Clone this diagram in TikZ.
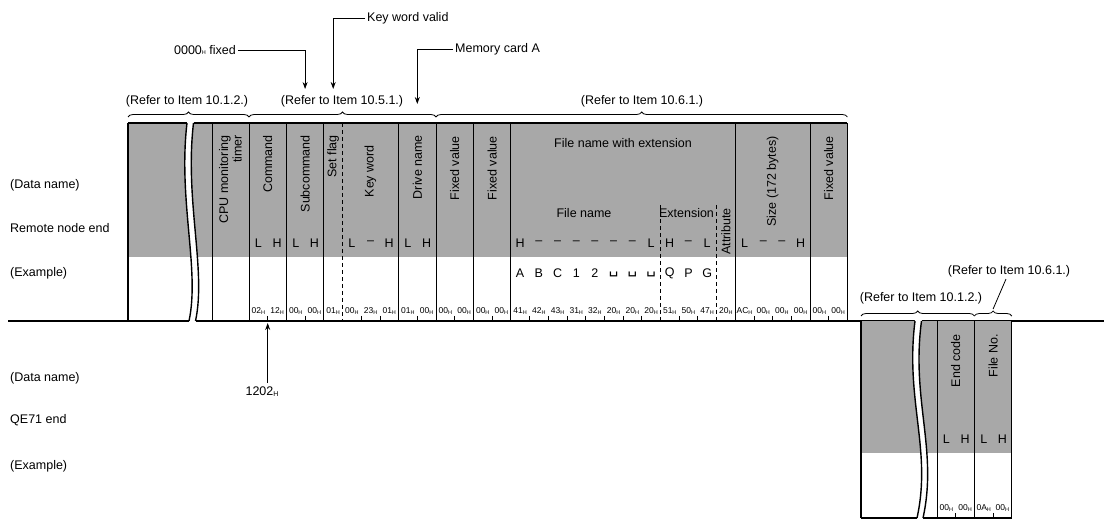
\documentclass[tikz,border=0pt]{standalone}
\usepackage{fontspec}
\setmainfont{Liberation Sans}
\newfontfamily\dejavu{DejaVu Sans}
\usetikzlibrary{decorations.pathreplacing,arrows.meta}
\newcommand\hexb[1]{#1\raisebox{-0.6pt}{\fontsize{5.5}{5.5}\selectfont H}}
\newcommand\vsp{{\dejavu\fontsize{15}{15}\selectfont ␣}}
\begin{document}
\begin{tikzpicture}[x=1pt,y=-1pt,
  lbl/.style={font=\fontsize{12.5}{13.5}\selectfont, inner sep=0pt},
  hdr/.style={lbl, rotate=90, anchor=east},
  edge/.style={line width=1.3pt},
  colline/.style={line width=0.8pt},
  dcol/.style={line width=0.8pt, dash pattern=on 4pt off 3pt},
  grayfill/.style={fill=black!34},
  hexs/.style={font=\fontsize{8.5}{9}\selectfont, inner sep=0pt},
  brc/.style={decorate, decoration={brace, amplitude=5pt}, line width=0.8pt},
  arr/.style={-{Stealth[length=7pt,width=5pt]}, line width=0.8pt},
  wave/.style={line width=1.4pt},
]
\useasboundingbox (0,0) rectangle (1104,521);

% ---------------- main (request) frame ----------------
\fill[grayfill] (128,123) rectangle (847.4,257);
\fill[white] (187,121) .. controls (178,200) and (200,270) .. (189,322)
  -- (195.5,322) .. controls (206.5,270) and (184.5,200) .. (193.5,121) -- cycle;
\draw[edge] (128,123) -- (187,123);
\draw[edge] (193.5,123) -- (847.4,123);
\draw[edge] (128,123) -- (128,321);
\draw[edge] (847.4,123) -- (847.4,321);
\draw[wave] (187,123) .. controls (178,200) and (200,270) .. (189,321);
\draw[wave] (193.5,123) .. controls (184.5,200) and (206.5,270) .. (195.5,321);
\foreach \x in {212,249,286.4,323.8,398.6,436,473.4,510.8,735.2,810}
  \draw[colline] (\x,123) -- (\x,321);
\draw[dcol] (342.5,123) -- (342.5,321);
\draw[dcol] (660.4,205) -- (660.4,321);
\draw[dcol] (716.5,205) -- (716.5,321);

% timeline
\draw[edge] (8,321) -- (189,321);
\draw[edge] (195.5,321) -- (915,321);
\draw[edge] (921.5,321) -- (1104,321);

% byte ticks
\foreach \n in {1,3,6,7,9,11,13,15,16,17,18,19,20,21,23,24,27,28,29,31}
  \draw[colline] ({249+18.7*\n},316) -- ({249+18.7*\n},321);

% headers
\node[hdr, align=right] (cpu) at (230.5,135) {CPU monitoring\\timer};
\node[hdr] (cmd) at (267.7,135) {Command};
\node[hdr] (sub) at (305.1,135) {Subcommand};
\node[hdr] (sf) at (333.2,135) {Set flag};
\node[hdr] (kw) at (370.5,145) {Key word};
\node[hdr] (dn) at (417.3,135) {Drive name};
\node[hdr] (fv1) at (454.7,136) {Fixed value};
\node[hdr] (fv2) at (492.1,136) {Fixed value};
\node[hdr] (att) at (725.8,208) {Attribute};
\node[hdr] (siz) at (772.6,136) {Size (172 bytes)};
\node[hdr] (fv3) at (828.7,136) {Fixed value};
\node[lbl] (fnx) at (623,143) {File name with extension};
\node[lbl] (fn) at (584,213) {File name};
\node[lbl] (ext) at (686.5,213) {Extension};

% L/H row
\foreach \n/\t in {0/L,1/H,2/L,3/H,5/L,6/–,7/H,8/L,9/H,14/H,15/–,16/–,17/–,18/–,19/–,20/–,21/L,22/H,23/–,24/L,26/L,27/–,28/–,29/H}
  \node[lbl] (lh\n) at ({249+18.7*(\n+0.5)},243) {\t};

% example row
\foreach \n/\t in {14/A,15/B,16/C,17/1,18/2,22/Q,23/P,24/G}
  \node[lbl] (ex\n) at ({249+18.7*(\n+0.5)},273) {\t};
\foreach \n in {19,20,21}
  \node[lbl] (ex\n) at ({249+18.7*(\n+0.5)},274) {\vsp};

% hex row
\foreach \n/\v in {0/02,1/12,2/00,3/00,4/01,5/00,6/23,7/01,8/01,9/00,10/00,11/00,12/00,13/00,14/41,15/42,16/43,17/31,18/32,19/20,20/20,21/20,22/51,23/50,24/47,25/20,26/AC,27/00,28/00,29/00,30/00,31/00}
  \node[hexs] (hx\n) at ({249+18.7*(\n+0.5)},311) {\hexb{\v}};

% braces and references
\draw[brc] (128,117) -- (249,117);
\draw[brc] (249,117) -- (436,117);
\draw[brc] (436,117) -- (847.4,117);
\node[lbl] (r1) at (187,101) {(Refer to Item 10.1.2.)};
\node[lbl] (r2) at (342,101) {(Refer to Item 10.5.1.)};
\node[lbl] (r3) at (642,101) {(Refer to Item 10.6.1.)};

% pointer labels
\node[lbl, inner sep=2pt, anchor=east] (zf) at (238,50) {\hexb{0000} fixed};
\node[lbl, inner sep=2pt, anchor=west] (kwv) at (365,18) {Key word valid};
\node[lbl, inner sep=2pt, anchor=west] (mca) at (453,49) {Memory card A};
\coordinate (subtip) at (305.1,89);
\coordinate (sftip) at (333.2,89);
\coordinate (dntip) at (417.3,104);
\draw[arr] (zf.east) -| (subtip);
\draw[arr] (kwv.west) -| (sftip);
\draw[arr] (mca.west) -| (dntip);

\node[lbl] (n1202) at (262,392) {1202\raisebox{-0.8pt}{\fontsize{7}{7}\selectfont H}};
\coordinate (cmdtip) at (267.7,323);
\draw[arr] (n1202.north -| cmdtip) ++(0,-4) -- (cmdtip);

% row labels
\node[lbl, anchor=west] (dn1) at (10,185) {(Data name)};
\node[lbl, anchor=west] (rne) at (10,228) {Remote node end};
\node[lbl, anchor=west] (exa1) at (10,273) {(Example)};
\node[lbl, anchor=west] (dn2) at (10,378) {(Data name)};
\node[lbl, anchor=west] (qe) at (10,420) {QE71 end};
\node[lbl, anchor=west] (exa2) at (10,466) {(Example)};

% ---------------- response frame ----------------
\fill[grayfill] (861,321) rectangle (1011.8,453);
\fill[white] (915,320) .. controls (905,400) and (932,450) .. (917,519)
  -- (923,519) .. controls (938,450) and (911,400) .. (921.5,320) -- cycle;
\draw[edge] (861,321) -- (861,518);
\draw[edge] (1011.8,321) -- (1011.8,518);
\draw[edge] (861,518) -- (917,518);
\draw[edge] (923,518) -- (1011.8,518);
\draw[wave] (915,321) .. controls (905,400) and (932,450) .. (917,518);
\draw[wave] (921.5,321) .. controls (911,400) and (938,450) .. (923,518);
\draw[colline] (937,321) -- (937,518);
\draw[colline] (974.4,321) -- (974.4,518);
\draw[colline] (955.7,513) -- (955.7,518);
\draw[colline] (993.1,513) -- (993.1,518);
\node[hdr] (ec) at (955.7,334) {End code};
\node[hdr] (fno) at (993.1,334) {File No.};
\foreach \n/\t in {0/L,1/H,2/L,3/H}
  \node[lbl] (rlh\n) at ({937+18.7*(\n+0.5)},439) {\t};
\foreach \n/\v in {0/00,1/00,2/0A,3/00}
  \node[hexs] (rhx\n) at ({937+18.7*(\n+0.5)},508) {\hexb{\v}};
\draw[brc] (861,316) -- (974.4,316);
\draw[brc] (974.4,316) -- (1011.8,316);
\node[lbl] (r4) at (921,298) {(Refer to Item 10.1.2.)};
\node[lbl, inner sep=2pt] (r5) at (1009,271) {(Refer to Item 10.6.1.)};
\coordinate (fnbt) at (993.1,309);
\draw[line width=0.8pt] (fnbt) -- (r5.south -| 1006,0);
\end{tikzpicture}
\end{document}
